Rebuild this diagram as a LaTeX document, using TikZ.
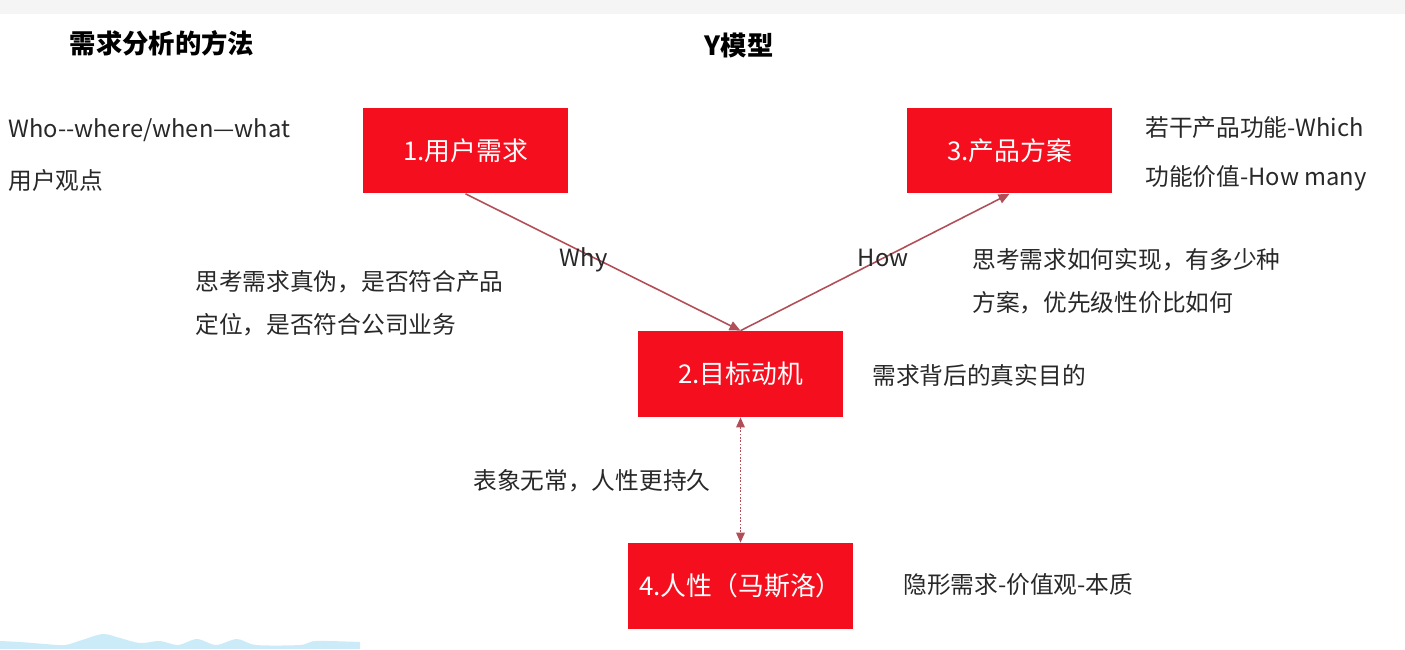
\documentclass[tikz,border=0pt]{standalone}
\usepackage{fontspec}
\setmainfont{Noto Sans CJK SC}
\usetikzlibrary{arrows.meta}

\definecolor{boxred}{RGB}{245,15,30}
\definecolor{linered}{RGB}{178,78,88}
\definecolor{txtgray}{RGB}{40,40,40}
\definecolor{wave}{RGB}{204,235,248}

\begin{document}
\begin{tikzpicture}[
  x=0.02cm, y=-0.02cm,
  box/.style={fill=boxred, text=white, minimum width=4.1cm, minimum height=1.72cm, inner sep=0pt, font=\fontsize{14.7}{17}\selectfont},
  note/.style={anchor=west, inner sep=0pt, align=left, text=txtgray, font=\fontsize{13.5}{24.6}\selectfont},
  ttl/.style={inner sep=0pt, text=black, font=\fontsize{15}{18}\selectfont\bfseries},
  lbl/.style={inner sep=0pt, text=txtgray, font=\fontsize{13.5}{16}\selectfont},
  arr/.style={-{Triangle[length=2.2mm, width=1.9mm]}, line width=0.9pt, draw=linered},
  dotarr/.style={{Triangle[length=2mm, width=1.7mm]}-{Triangle[length=2mm, width=1.7mm]}, line width=0.9pt, densely dotted, draw=linered}
]
  \useasboundingbox (0,0) rectangle (1405,649);
  \fill[black!4] (0,0) rectangle (1405,14);
  % wave at the bottom left
  \fill[wave] (0,649) -- plot[smooth] coordinates {(0,641) (20,642) (45,644) (65,645) (82,640) (103,634) (120,638) (140,643) (160,641) (178,645) (197,639) (216,645) (237,639) (256,645) (300,645) (316,641) (360,642)} -- (360,649) -- cycle;

  \node[ttl] (method) at (162,43) {需求分析的方法};
  \node[ttl] (ymodel) at (739,45) {Y模型};

  \node[box] (user) at (465.5,150.5) {1.用户需求};
  \node[box] (plan) at (1009.5,150.5) {3.产品方案};
  \node[box] (goal) at (740.5,374) {2.目标动机};
  \node[box, minimum width=4.5cm] (human) at (740.5,586) {4.人性（马斯洛）};

  \node[note] (who) at (8,130) {Who-{}-where/when—what};
  \node[note] (view) at (8,180) {用户观点};
  \node[note] (which) at (1145,128) {若干产品功能-Which};
  \node[note] (many) at (1145,178) {功能价值-How many};
  \node[note] (truth) at (195,303.5) {思考需求真伪，是否符合产品\\定位，是否符合公司业务};
  \node[note] (realize) at (972,281) {思考需求如何实现，有多少种\\方案，优先级性价比如何};
  \node[note] (purpose) at (872,375) {需求背后的真实目的};
  \node[note] (lasting) at (473,481) {表象无常，人性更持久};
  \node[note] (hidden) at (903,585) {隐形需求-价值观-本质};

  \draw[arr] (user.south) -- node[lbl, pos=0.43, yshift=-0.14cm] {Why} (goal.north);
  \draw[arr] (goal.north) -- node[lbl, pos=0.53] {How} (plan.south);
  \draw[dotarr] (goal.south) -- (human.north);
\end{tikzpicture}
\end{document}
